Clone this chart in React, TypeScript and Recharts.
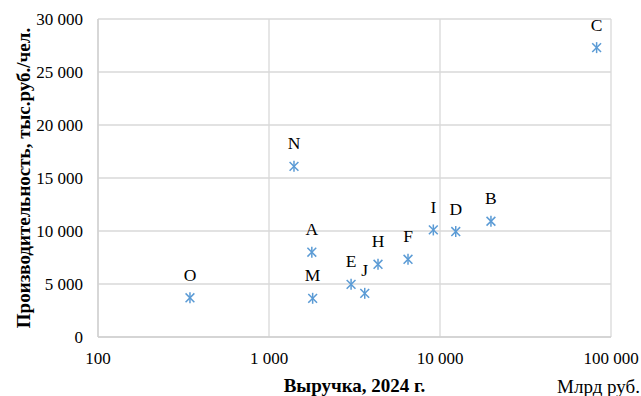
import React from 'react';
import { ScatterChart, Scatter, XAxis, YAxis, CartesianGrid, Label } from 'recharts';

const companies = ['N', 'C', 'O', 'A', 'M', 'E', 'J', 'H', 'F', 'I', 'D', 'B'];
const revenue = [1400, 82400, 345, 1780, 1800, 3020, 3630, 4340, 6500, 9140, 12360, 19860];
const productivity = [16100, 27300, 3700, 8000, 3650, 4970, 4120, 6860, 7330, 10100, 9950, 10920];

const xTicks = [100, 1000, 10000, 100000];
const yTicks = [0, 5000, 10000, 15000, 20000, 25000, 30000];

const data = companies.map((name, i) => ({ name, x: revenue[i], y: productivity[i] }));

const FONT = "'Liberation Serif', 'Times New Roman', serif";
const MARK = '#5B9BD5';

const fmt = (v: number) => String(v).replace(/\B(?=(\d{3})+(?!\d))/g, ' ');

const Star = (props: any) => {
  const { cx, cy, payload } = props;
  const r = 5.5;
  const d = 4.4;
  return (
    <g>
      <line x1={cx} y1={cy - r} x2={cx} y2={cy + r} stroke={MARK} strokeWidth={1.5} />
      <line x1={cx - d} y1={cy - d} x2={cx + d} y2={cy + d} stroke={MARK} strokeWidth={1.5} />
      <line x1={cx - d} y1={cy + d} x2={cx + d} y2={cy - d} stroke={MARK} strokeWidth={1.5} />
      <text x={cx} y={cy - 17} textAnchor="middle" fontFamily={FONT} fontSize={17.5} fill="#000">
        {payload.name}
      </text>
    </g>
  );
};

const XTick = (props: any) => {
  const { x, y, payload } = props;
  return (
    <text x={x} y={y + 21} textAnchor="middle" dominantBaseline="central" fontFamily={FONT} fontSize={17} fill="#000">
      {fmt(payload.value)}
    </text>
  );
};

const YTick = (props: any) => {
  const { x, y, payload } = props;
  return (
    <text x={x} y={y} textAnchor="end" dominantBaseline="central" fontFamily={FONT} fontSize={17} fill="#000">
      {fmt(payload.value)}
    </text>
  );
};

export default function App() {
  return (
    <div>
      <style>{`html,body{margin:0;padding:0;overflow:hidden}`}</style>
      <ScatterChart width={641} height={396} margin={{ top: 19, right: 30, bottom: 0, left: 8 }}>
        <CartesianGrid stroke="#d9d9d9" strokeWidth={1.3} />
        <XAxis
          type="number"
          dataKey="x"
          scale="log"
          domain={[100, 100000]}
          ticks={xTicks}
          allowDataOverflow
          height={59}
          tickLine={false}
          tickSize={0}
          tickMargin={0}
          axisLine={{ stroke: '#d0d0d0', strokeWidth: 1.3 }}
          tick={<XTick />}
          interval={0}
        >
          <Label
            content={(p: any) => {
              const vb = p.viewBox;
              return (
                <g>
                  <text x={vb.x + vb.width / 2} y={vb.y + 48} textAnchor="middle" dominantBaseline="central" fontFamily={FONT} fontSize={19} fontWeight="bold" fill="#000">
                    Выручка, 2024 г.
                  </text>
                  <text x={vb.x + vb.width + 29} y={vb.y + 49} textAnchor="end" dominantBaseline="central" fontFamily={FONT} fontSize={19} fill="#000">
                    Млрд руб.
                  </text>
                </g>
              );
            }}
          />
        </XAxis>
        <YAxis
          type="number"
          dataKey="y"
          domain={[0, 30000]}
          ticks={yTicks}
          width={90}
          tickLine={false}
          tickSize={0}
          tickMargin={15}
          axisLine={{ stroke: '#d0d0d0', strokeWidth: 1.3 }}
          tick={<YTick />}
          interval={0}
        >
          <Label
            content={(p: any) => {
              const vb = p.viewBox;
              const cx = 23;
              const cy = vb.y + vb.height / 2;
              return (
                <text x={cx} y={cy} transform={`rotate(-90 ${cx} ${cy})`} textAnchor="middle" dominantBaseline="central" fontFamily={FONT} fontSize={19} fontWeight="bold" fill="#000">
                  Производительность, тыс.руб./чел.
                </text>
              );
            }}
          />
        </YAxis>
        <Scatter data={data} shape={<Star />} isAnimationActive={false} />
      </ScatterChart>
    </div>
  );
}
